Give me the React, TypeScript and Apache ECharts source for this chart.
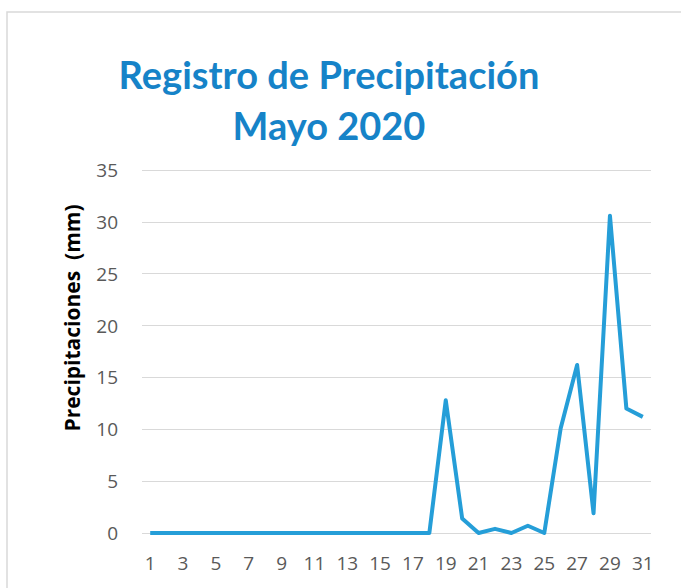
import React, { useEffect, useRef } from "react";
import * as echarts from "echarts";

const days: string[] = Array.from({ length: 31 }, (_, i) => String(i + 1));
const precipitation: number[] = [
  0, 0, 0, 0, 0, 0, 0, 0, 0, 0, 0, 0, 0, 0, 0, 0, 0, 0,
  12.8, 1.4, 0, 0.4, 0, 0.7, 0, 10.1, 16.2, 1.9, 30.6, 12.0, 11.2,
];
const titleText = "Registro de Precipitación\nMayo 2020";
const yAxisName = "Precipitaciones  (mm)";

export default function App() {
  const ref = useRef<HTMLDivElement>(null);
  useEffect(() => {
    if (!ref.current) return;
    const chart = echarts.init(ref.current, undefined, { renderer: "svg" });
    chart.setOption({
      animation: false,
      backgroundColor: "#ffffff",
      graphic: [
        {
          type: "rect",
          shape: { x: 7, y: 12, width: 700, height: 600 },
          style: { fill: "none", stroke: "#d9d9d9", lineWidth: 1.5 },
          silent: true,
        },
        {
          type: "text",
          x: 72,
          y: 318,
          rotation: Math.PI / 2,
          style: {
            text: yAxisName,
            fill: "#000000",
            font: "bold 21px 'Open Sans'",
            align: "center",
            verticalAlign: "middle",
          },
          silent: true,
        },
      ],
      title: {
        text: titleText,
        left: 324,
        top: 43,
        textAlign: "center",
        textStyle: {
          color: "#1683c8",
          fontFamily: "Lato",
          fontWeight: "bold",
          fontSize: 38,
          lineHeight: 51,
        },
      },
      grid: { left: 142, right: 30, top: 170, bottom: 55 },
      xAxis: {
        type: "category",
        data: days,
        boundaryGap: true,
        axisLine: { show: false },
        axisTick: { show: false },
        axisLabel: {
          interval: 1,
          color: "#595959",
          fontFamily: "Open Sans",
          fontSize: 19,
          margin: 20,
        },
      },
      yAxis: {
        type: "value",
        min: 0,
        max: 35,
        interval: 5,
        axisLine: { show: false },
        axisTick: { show: false },
        axisLabel: {
          color: "#595959",
          fontFamily: "Open Sans",
          fontSize: 19,
          margin: 24,
        },
        splitLine: { lineStyle: { color: "#d9d9d9", width: 1 } },
      },
      series: [
        {
          type: "line",
          data: precipitation,
          showSymbol: false,
          symbol: "none",
          lineStyle: { color: "#259ed8", width: 4, join: "round" },
        },
      ],
    });
    return () => chart.dispose();
  }, []);
  return (
    <div
      ref={ref}
      style={{ position: "absolute", left: 0, top: 0, width: 681, height: 588 }}
    />
  );
}
